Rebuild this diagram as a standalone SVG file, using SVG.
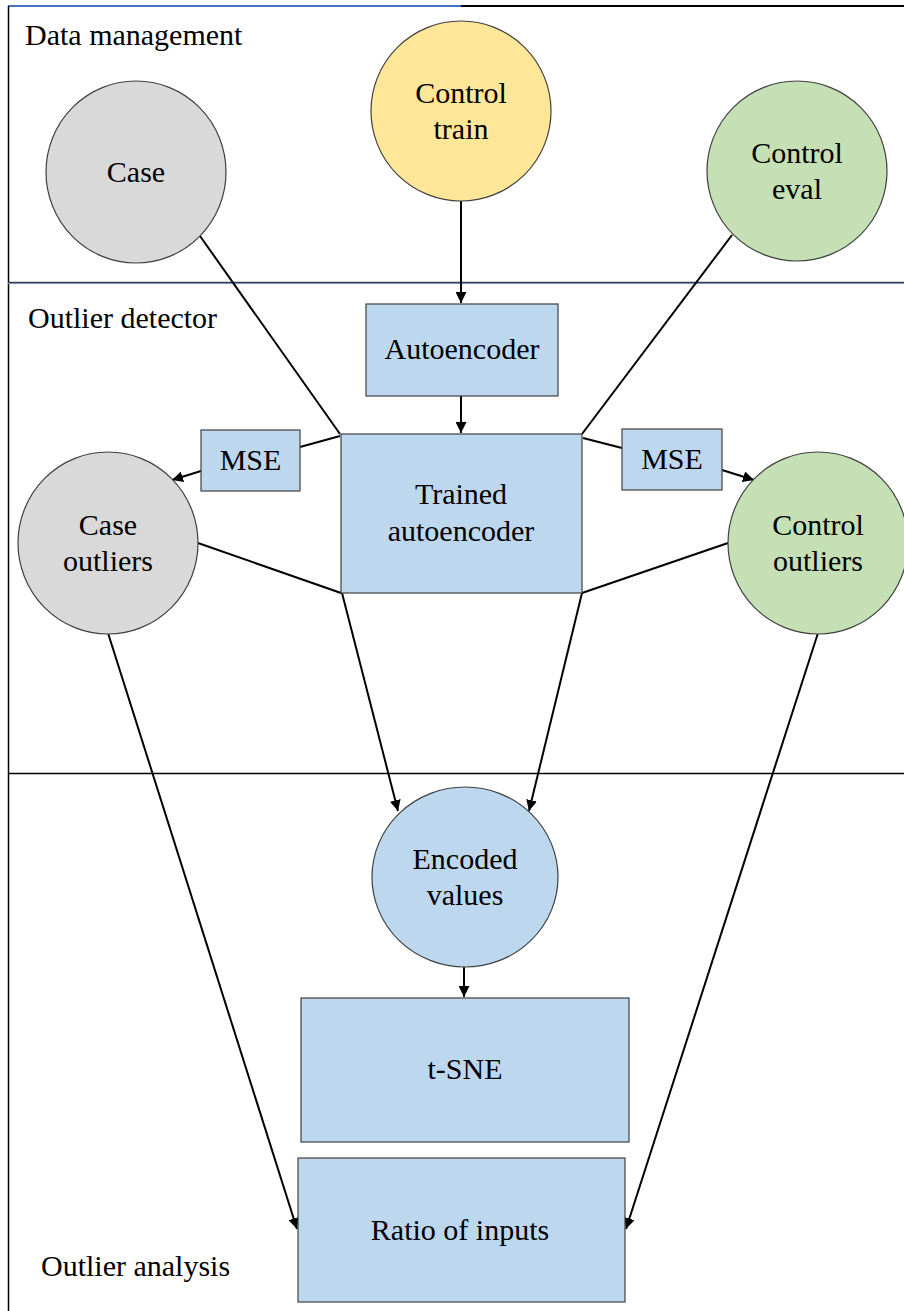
<svg xmlns="http://www.w3.org/2000/svg" width="904" height="1311" viewBox="0 0 904 1311">
  <style>
    text { font-family: "Liberation Serif", "Times New Roman", serif; font-size: 30px; fill: #000; }
    .lbl { text-anchor: start; }
    .nt { text-anchor: middle; }
    .node { stroke: #404040; stroke-width: 1.2; }
    .gray { fill: #D9D9D9; }
    .yellow { fill: #FFE699; }
    .green { fill: #C5E0B4; }
    .blue { fill: #BDD7EE; }
    .edge { stroke: #000; stroke-width: 2; fill: none; }
    .arr { marker-end: url(#head); }
  </style>
  <defs>
    <marker id="head" viewBox="0 0 10 10" refX="10" refY="5" markerWidth="5.5" markerHeight="5.5" markerUnits="strokeWidth" orient="auto">
      <path d="M0,0 L10,5 L0,10 z" fill="#000"/>
    </marker>
  </defs>

  <rect width="904" height="1311" fill="#fff"/>

  <!-- frame and band separators -->
  <g id="frame">
    <line x1="8" y1="6" x2="461" y2="6" stroke="#4472C4" stroke-width="2"/>
    <line x1="461" y1="6" x2="904" y2="6" stroke="#000" stroke-width="2"/>
    <line x1="8.5" y1="6" x2="8.5" y2="1311" stroke="#000" stroke-width="1.5"/>
    <line x1="8" y1="283.5" x2="904" y2="283.5" stroke="#8FAADC" stroke-width="1"/>
    <line x1="8" y1="282.5" x2="904" y2="282.5" stroke="#3a4250" stroke-width="1.5"/>
    <line x1="8" y1="773.5" x2="904" y2="773.5" stroke="#000" stroke-width="1.3"/>
  </g>

  <!-- band titles -->
  <g id="band-labels">
    <text class="lbl" x="25" y="45">Data management</text>
    <text class="lbl" x="28" y="328">Outlier detector</text>
    <text class="lbl" x="41" y="1276">Outlier analysis</text>
  </g>

  <!-- connectors -->
  <g id="connectors">
    <line class="edge" x1="200" y1="236" x2="340" y2="434"/>
    <line class="edge" x1="732" y1="235" x2="582" y2="434"/>
    <line class="edge arr" x1="461" y1="201" x2="461" y2="303"/>
    <line class="edge arr" x1="461" y1="396" x2="461" y2="433"/>
    <line class="edge" x1="340" y1="436" x2="300" y2="447"/>
    <line class="edge arr" x1="201" y1="471" x2="172" y2="480"/>
    <line class="edge" x1="583" y1="438" x2="622" y2="448"/>
    <line class="edge arr" x1="722" y1="470" x2="754" y2="480"/>
    <line class="edge" x1="198" y1="543" x2="341" y2="593"/>
    <line class="edge" x1="728" y1="543" x2="582" y2="593"/>
    <line class="edge arr" x1="342" y1="593" x2="398" y2="811"/>
    <line class="edge arr" x1="582" y1="593" x2="529" y2="811"/>
    <line class="edge arr" x1="464" y1="967" x2="464" y2="997"/>
    <line class="edge arr" x1="108" y1="633" x2="297" y2="1229"/>
    <line class="edge arr" x1="818" y1="633" x2="626" y2="1229"/>
  </g>

  <g id="case">
    <ellipse class="node gray" cx="136" cy="172" rx="90" ry="91"/>
    <text class="nt" x="136" y="182">Case</text>
  </g>
  <g id="control-train">
    <ellipse class="node yellow" cx="461" cy="111" rx="90" ry="90"/>
    <text class="nt" x="461" y="103">Control</text>
    <text class="nt" x="461" y="139">train</text>
  </g>
  <g id="control-eval">
    <ellipse class="node green" cx="797" cy="171" rx="90" ry="90"/>
    <text class="nt" x="797" y="163">Control</text>
    <text class="nt" x="797" y="199">eval</text>
  </g>
  <g id="autoencoder">
    <rect class="node blue" x="366" y="304" width="192" height="92"/>
    <text class="nt" x="462" y="359">Autoencoder</text>
  </g>
  <g id="trained-autoencoder">
    <rect class="node blue" x="341" y="434" width="241" height="159"/>
    <text class="nt" x="461" y="504">Trained</text>
    <text class="nt" x="461" y="541">autoencoder</text>
  </g>
  <g id="mse-case">
    <rect class="node blue" x="201" y="430" width="99" height="61"/>
    <text class="nt" x="250.5" y="470">MSE</text>
  </g>
  <g id="mse-control">
    <rect class="node blue" x="622" y="429" width="100" height="61"/>
    <text class="nt" x="672" y="469">MSE</text>
  </g>
  <g id="case-outliers">
    <ellipse class="node gray" cx="108" cy="543" rx="90" ry="91"/>
    <text class="nt" x="108" y="535">Case</text>
    <text class="nt" x="108" y="571">outliers</text>
  </g>
  <g id="control-outliers">
    <ellipse class="node green" cx="818" cy="543" rx="90" ry="91"/>
    <text class="nt" x="818" y="535">Control</text>
    <text class="nt" x="818" y="571">outliers</text>
  </g>
  <g id="encoded-values">
    <ellipse class="node blue" cx="465" cy="877" rx="93" ry="90"/>
    <text class="nt" x="465" y="869">Encoded</text>
    <text class="nt" x="465" y="905">values</text>
  </g>
  <g id="tsne">
    <rect class="node blue" x="301" y="998" width="328" height="144"/>
    <text class="nt" x="465" y="1079">t-SNE</text>
  </g>
  <g id="ratio-of-inputs">
    <rect class="node blue" x="298" y="1158" width="327" height="144"/>
    <text class="nt" x="460" y="1240">Ratio of inputs</text>
  </g>
</svg>
